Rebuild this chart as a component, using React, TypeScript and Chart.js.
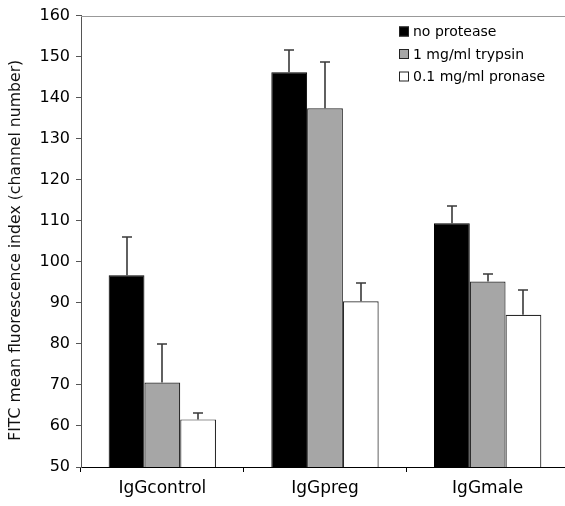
import React, { useEffect, useRef } from 'react';
import { Chart, registerables } from 'chart.js';

Chart.register(...registerables);

const categories = ['IgGcontrol', 'IgGpreg', 'IgGmale'];
const seriesNames = ['no protease', '1 mg/ml trypsin', '0.1 mg/ml pronase'];
const noProtease = [96.7, 146.2, 109.4];
const noProteaseErr = [9.3, 5.3, 4.1];
const trypsin = [70.6, 137.4, 95.2];
const trypsinErr = [9.3, 11.4, 1.8];
const pronase = [61.6, 90.4, 87.1];
const pronaseErr = [1.5, 4.4, 6.0];
const yTitle = 'FITC mean fluorescence index (channel number)';

const FONT = "'DejaVu Sans', sans-serif";

const errorBarPlugin = {
  id: 'errorBars',
  afterDatasetsDraw(chart: any) {
    const ctx = chart.ctx;
    const yScale = chart.scales.y;
    ctx.save();
    ctx.strokeStyle = '#3a3a3a';
    ctx.lineWidth = 1.6;
    chart.data.datasets.forEach((ds: any, di: number) => {
      const meta = chart.getDatasetMeta(di);
      meta.data.forEach((bar: any, i: number) => {
        const v = ds.data[i];
        const e = ds.errors[i];
        const x = Math.round(bar.x);
        const y0 = yScale.getPixelForValue(v);
        const y1 = Math.round(yScale.getPixelForValue(v + e));
        ctx.beginPath();
        ctx.moveTo(x, y0);
        ctx.lineTo(x, y1);
        ctx.moveTo(x - 5, y1);
        ctx.lineTo(x + 5, y1);
        ctx.stroke();
      });
    });
    ctx.restore();
  },
};

const framePlugin = {
  id: 'frameAndLegend',
  afterDraw(chart: any) {
    const ctx = chart.ctx;
    const a = chart.chartArea;
    ctx.save();
    ctx.strokeStyle = '#999';
    ctx.lineWidth = 1;
    ctx.beginPath();
    ctx.moveTo(a.left, Math.round(a.top) + 0.5);
    ctx.lineTo(a.right, Math.round(a.top) + 0.5);
    ctx.stroke();
    // y-axis title
    ctx.save();
    ctx.translate(16, (a.top + a.bottom) / 2 + 9);
    ctx.rotate(-Math.PI / 2);
    ctx.font = `15.7px ${FONT}`;
    ctx.fillStyle = '#111';
    ctx.textAlign = 'center';
    ctx.textBaseline = 'middle';
    ctx.fillText(yTitle, 0, 0);
    ctx.restore();
    // legend
    const bx = 399;
    const rows = [31.5, 54, 76.5];
    ctx.font = `14px ${FONT}`;
    ctx.textBaseline = 'middle';
    ctx.textAlign = 'left';
    chart.data.datasets.forEach((ds: any, i: number) => {
      const cy = rows[i];
      ctx.fillStyle = ds.backgroundColor;
      ctx.fillRect(bx, cy - 5, 10, 10);
      ctx.strokeStyle = '#222';
      ctx.strokeRect(bx + 0.5, cy - 4.5, 9, 9);
      ctx.fillStyle = '#000';
      ctx.fillText(ds.label, bx + 14, cy + 1);
    });
    ctx.restore();
  },
};

export default function App() {
  const ref = useRef<HTMLCanvasElement>(null);
  useEffect(() => {
    document.body.style.margin = '0';
    const chart = new Chart(ref.current!, {
      type: 'bar',
      data: {
        labels: categories,
        datasets: [
          { label: seriesNames[0], data: noProtease, errors: noProteaseErr, backgroundColor: '#000000', borderColor: '#000000', borderWidth: 1 } as any,
          { label: seriesNames[1], data: trypsin, errors: trypsinErr, backgroundColor: '#a6a6a6', borderColor: '#2a2a2a', borderWidth: 1.2 } as any,
          { label: seriesNames[2], data: pronase, errors: pronaseErr, backgroundColor: '#ffffff', borderColor: '#2a2a2a', borderWidth: 1.2 } as any,
        ],
      },
      options: {
        animation: false,
        responsive: false,
        maintainAspectRatio: false,
        layout: { padding: { left: 0, right: 11, top: 15, bottom: 0 } },
        plugins: { legend: { display: false }, tooltip: { enabled: false } },
        datasets: { bar: { categoryPercentage: 0.66, barPercentage: 1 } },
        scales: {
          x: {
            grid: { drawOnChartArea: false, tickLength: 5, color: '#000', offset: true },
            border: { color: '#000', width: 1 },
            ticks: { color: '#000', font: { family: FONT, size: 17 }, padding: 6, maxRotation: 0 },
            afterFit(s: any) { s.height = 39; },
          },
          y: {
            min: 50,
            max: 160,
            grid: { drawOnChartArea: false, tickLength: 5, color: '#555' },
            border: { color: '#555', width: 1 },
            ticks: { stepSize: 10, color: '#000', font: { family: FONT, size: 16 }, padding: 6 },
            title: { display: false },
            afterFit(s: any) { s.width = 81; },
          },
        },
      },
      plugins: [errorBarPlugin, framePlugin],
    } as any);
    return () => chart.destroy();
  }, []);
  return (
    <div style={{ width: 565, height: 506, overflow: 'hidden', position: 'relative', background: '#fff' }}>
      <canvas ref={ref} width={580} height={506} style={{ display: 'block' }} />
    </div>
  );
}
